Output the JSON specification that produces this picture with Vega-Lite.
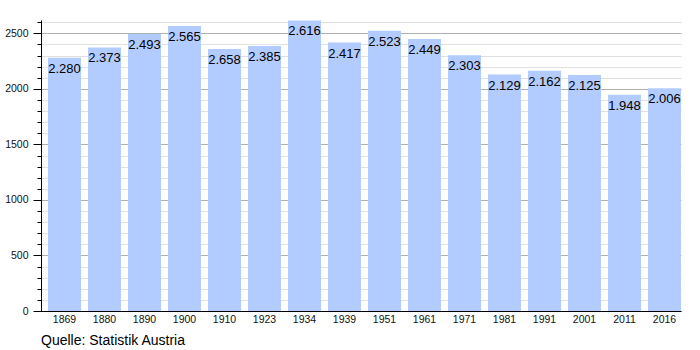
{
  "$schema": "https://vega.github.io/schema/vega-lite/v6.json",
  "width": 640,
  "height": 291,
  "autosize": {"type": "none"},
  "padding": {"left": 41, "top": 20, "right": 19, "bottom": 39},
  "background": "white",
  "config": {
    "view": {"stroke": null},
    "font": "Liberation Sans",
    "axis": {"labelFont": "Liberation Sans", "labelColor": "#111", "domainColor": "#000", "tickColor": "#000"}
  },
  "title": {
    "text": "Quelle: Statistik Austria",
    "orient": "bottom",
    "anchor": "start",
    "frame": "group",
    "fontSize": 14,
    "fontWeight": "normal",
    "color": "#000",
    "font": "Liberation Sans",
    "offset": 9
  },
  "data": {
    "values": [
      {"year": "1869", "value": 2280, "label": "2.280"},
      {"year": "1880", "value": 2373, "label": "2.373"},
      {"year": "1890", "value": 2493, "label": "2.493"},
      {"year": "1900", "value": 2565, "label": "2.565"},
      {"year": "1910", "value": 2358, "label": "2.658"},
      {"year": "1923", "value": 2385, "label": "2.385"},
      {"year": "1934", "value": 2616, "label": "2.616"},
      {"year": "1939", "value": 2417, "label": "2.417"},
      {"year": "1951", "value": 2523, "label": "2.523"},
      {"year": "1961", "value": 2449, "label": "2.449"},
      {"year": "1971", "value": 2303, "label": "2.303"},
      {"year": "1981", "value": 2129, "label": "2.129"},
      {"year": "1991", "value": 2162, "label": "2.162"},
      {"year": "2001", "value": 2125, "label": "2.125"},
      {"year": "2011", "value": 1948, "label": "1.948"},
      {"year": "2016", "value": 2006, "label": "2.006"}
    ]
  },
  "encoding": {
    "x": {
      "field": "year",
      "type": "ordinal",
      "sort": null,
      "scale": {"paddingInner": 0.175, "paddingOuter": 0.0875, "align": 1},
      "axis": {
        "title": null,
        "labelAngle": 0,
        "ticks": false,
        "labelPadding": 3,
        "labelFontSize": 10.5,
        "domainColor": "#000",
        "domainWidth": 1
      }
    }
  },
  "layer": [
    {
      "mark": {"type": "bar", "color": "#b3ccff"},
      "encoding": {
        "y": {
          "field": "value",
          "type": "quantitative",
          "scale": {"domain": [0, 2620], "nice": false},
          "axis": {
            "orient": "left",
            "title": null,
            "values": [0, 100, 200, 300, 400, 500, 600, 700, 800, 900, 1000, 1100, 1200, 1300, 1400, 1500, 1600, 1700, 1800, 1900, 2000, 2100, 2200, 2300, 2400, 2500, 2600],
            "labels": false,
            "domain": false,
            "tickSize": 4,
            "grid": true,
            "gridColor": "#e0e0e0",
            "gridWidth": 1
          }
        }
      }
    },
    {
      "mark": {"type": "text", "fontSize": 13, "color": "#000", "baseline": "alphabetic", "dy": 15, "font": "Liberation Sans"},
      "encoding": {
        "y": {
          "field": "value",
          "type": "quantitative",
          "axis": {
            "orient": "left",
            "title": null,
            "values": [0, 500, 1000, 1500, 2000, 2500],
            "format": "d",
            "tickSize": 8,
            "labelPadding": 5,
            "labelFontSize": 10.5,
            "grid": true,
            "gridColor": "#b0b0b0",
            "gridWidth": 1,
            "domainColor": "#000"
          }
        },
        "text": {"field": "label"}
      }
    }
  ],
  "resolve": {"axis": {"y": "independent"}}
}
